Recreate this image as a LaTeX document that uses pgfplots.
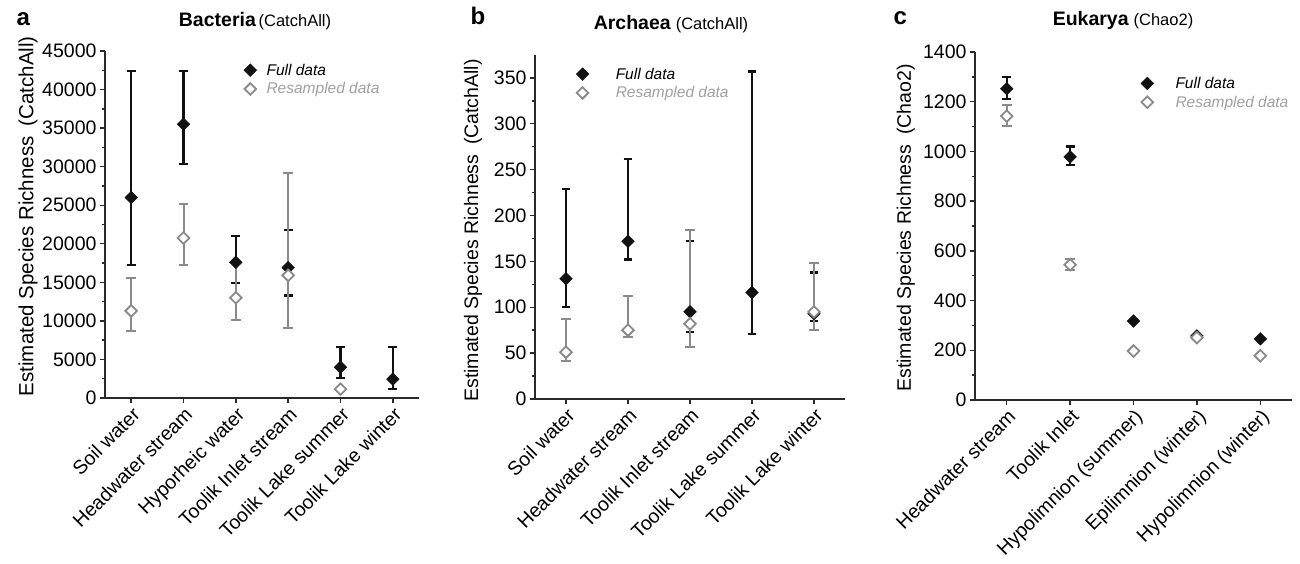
\documentclass[border=0pt]{standalone}
\usepackage{fontspec}
\setmainfont{Liberation Sans}
\usepackage{pgfplots}
\pgfplotsset{compat=1.18}
\usepackage{pgfplotstable}

\definecolor{full}{HTML}{111111}
\definecolor{res}{HTML}{8A8A8A}
\definecolor{restext}{HTML}{A0A0A0}
\definecolor{axisgray}{HTML}{2A2A2A}

% x = category index, y = estimate, lo/hi = ends of the error bar
\pgfplotstableread{
x y lo hi
0 26000 17200 42400
1 35500 30300 42400
2 17600 14900 21050
3 16900 13300 21800
4 4000 2600 6600
5 2450 1200 6600
}\aFull
\pgfplotstableread{
x y lo hi
0 11300 8650 15500
1 20750 17300 25200
2 13000 10150 17500
3 15900 9100 29200
4 1150 1150 1150
}\aRes
\pgfplotstableread{
x y lo hi
0 131 100 229
1 172 152 262
2 95 73 172
3 116 71 357
4 93 85 138
}\bFull
\pgfplotstableread{
x y lo hi
0 51 41 87
1 75 68 112
2 82 57 184
4 95 75 148
}\bRes
\pgfplotstableread{
x y lo hi
0 1252 1212 1299
1 978 945 1020
2 318 318 318
3 258 258 258
4 246 246 246
}\cFull
\pgfplotstableread{
x y lo hi
0 1142 1103 1185
1 544 521 569
2 197 197 197
3 251 251 251
4 178 178 178
}\cRes

\newcommand{\tickfont}{\fontsize{19.5}{20}\selectfont}

\pgfplotsset{
  rich/.style={
    scale only axis, ymin=0,
    axis lines=left, axis line style={-, line width=1.6pt, axisgray},
    tick align=outside, tick style={line width=1.4pt, axisgray},
    major tick length=5pt, minor tick length=3.5pt,
    minor y tick num=1,
    x tick label style={rotate=45, anchor=north east, font=\tickfont, inner sep=2pt},
    y tick label style={font=\tickfont},
    /pgf/number format/assume math mode=true,
    /pgf/number format/1000 sep={},
    scaled y ticks=false,
    ylabel style={font=\tickfont, anchor=center},
    legend style={draw=none, fill=none, font=\fontsize{15.5}{16}\selectfont\itshape,
      anchor=north west, row sep=2pt},
    legend cell align=left,
  },
  % legend image: the mark alone, with #1 of room before the text
  legimg/.style={legend image code/.code={
    \draw[##1] plot coordinates {(0pt,0pt)};
    \path (-8.5pt,0pt) (#1,0pt);}},
  fullp/.style={only marks, mark=square*, mark size=4.5pt,
    mark options={rotate=45, fill=full, draw=full, line width=0.4pt},
    error bars/.cd, y dir=both, y explicit,
    error bar style={line width=2.4pt, full},
    error mark options={rotate=90, mark size=4.4pt, line width=2.2pt, full}},
  resp/.style={only marks, mark=square*, mark size=4.1pt,
    mark options={rotate=45, fill=white, draw=res, line width=1.8pt},
    error bars/.cd, y dir=both, y explicit,
    error bar style={line width=2pt, res},
    error mark options={rotate=90, mark size=4.8pt, line width=2pt, res}},
}

\begin{document}
\begin{tikzpicture}[x=1pt, y=1pt]
\path[use as bounding box] (0,0) rectangle (1300,564);

% panel a
\node[anchor=base west, font=\fontsize{24}{24}\selectfont\bfseries] at (13,538) {a};
\node[anchor=base] at (255,537) {{\fontsize{19.5}{20}\selectfont\bfseries Bacteria} {\fontsize{16.5}{17}\selectfont(CatchAll)}};
\begin{axis}[rich, at={(105pt,166pt)}, anchor=south west, width=314pt, height=347pt,
  xmin=-0.5, xmax=5.5, ymax=45000,
  xtick={0,...,5},
  xticklabels={Soil water, Headwater stream, Hyporheic water, Toolik Inlet stream, Toolik Lake summer, Toolik Lake winter},
  ytick={0,5000,...,45000},
  ylabel={Estimated Species Richness\enspace(CatchAll)},
  ylabel style={at={(axis description cs:-0.245,0.524)}, font=\fontsize{20.5}{21}\selectfont},
  legimg=14pt,
  legend style={at={(0.425,0.975)}},
]
\addplot[fullp] table[x=x, y=y, y error plus expr=\thisrow{hi}-\thisrow{y}, y error minus expr=\thisrow{y}-\thisrow{lo}] {\aFull};
\addlegendentry{Full data}
\addplot[resp] table[x=x, y=y, y error plus expr=\thisrow{hi}-\thisrow{y}, y error minus expr=\thisrow{y}-\thisrow{lo}] {\aRes};
\addlegendentry{\textcolor{restext}{Resampled data}}
\end{axis}

% panel b
\node[anchor=base west, font=\fontsize{24}{24}\selectfont\bfseries] at (467,539) {b};
\node[anchor=base] at (671,534) {{\fontsize{19.5}{20}\selectfont\bfseries Archaea}\enspace{\fontsize{16.5}{17}\selectfont(CatchAll)}};
\begin{axis}[rich, at={(535pt,165pt)}, anchor=south west, width=310pt, height=344pt,
  xmin=-0.5, xmax=4.5, ymax=375,
  xtick={0,...,4},
  xticklabels={Soil water, Headwater stream, Toolik Inlet stream, Toolik Lake summer, Toolik Lake winter},
  ytick={0,50,...,350},
  ylabel={Estimated Species Richness\enspace(CatchAll)},
  ylabel style={at={(axis description cs:-0.2,0.49)}},
  legimg=31pt,
  legend style={at={(0.115,0.975)}},
]
\addplot[fullp] table[x=x, y=y, y error plus expr=\thisrow{hi}-\thisrow{y}, y error minus expr=\thisrow{y}-\thisrow{lo}] {\bFull};
\addlegendentry{Full data}
\addplot[resp] table[x=x, y=y, y error plus expr=\thisrow{hi}-\thisrow{y}, y error minus expr=\thisrow{y}-\thisrow{lo}] {\bRes};
\addlegendentry{\textcolor{restext}{Resampled data}}
\end{axis}

% panel c
\node[anchor=base west, font=\fontsize{24}{24}\selectfont\bfseries] at (890,539) {c};
\node[anchor=base] at (1123,538) {{\fontsize{19.5}{20}\selectfont\bfseries Eukarya}\enspace{\fontsize{16.5}{17}\selectfont(Chao2)}};
\begin{axis}[rich, at={(975pt,164pt)}, anchor=south west, width=317pt, height=348pt,
  xmin=-0.5, xmax=4.5, ymax=1400,
  xtick={0,...,4},
  xticklabels={Headwater stream, Toolik Inlet, Hypolimnion (summer), Epilimnion (winter), Hypolimnion (winter)},
  ytick={0,200,...,1400},
  ylabel={Estimated Species Richness\enspace(Chao2)},
  ylabel style={at={(axis description cs:-0.218,0.494)}},
  legimg=26pt,
  legend style={at={(0.506,0.94)}},
]
\addplot[fullp] table[x=x, y=y, y error plus expr=\thisrow{hi}-\thisrow{y}, y error minus expr=\thisrow{y}-\thisrow{lo}] {\cFull};
\addlegendentry{Full data}
\addplot[resp] table[x=x, y=y, y error plus expr=\thisrow{hi}-\thisrow{y}, y error minus expr=\thisrow{y}-\thisrow{lo}] {\cRes};
\addlegendentry{\textcolor{restext}{Resampled data}}
\end{axis}
\end{tikzpicture}
\end{document}
